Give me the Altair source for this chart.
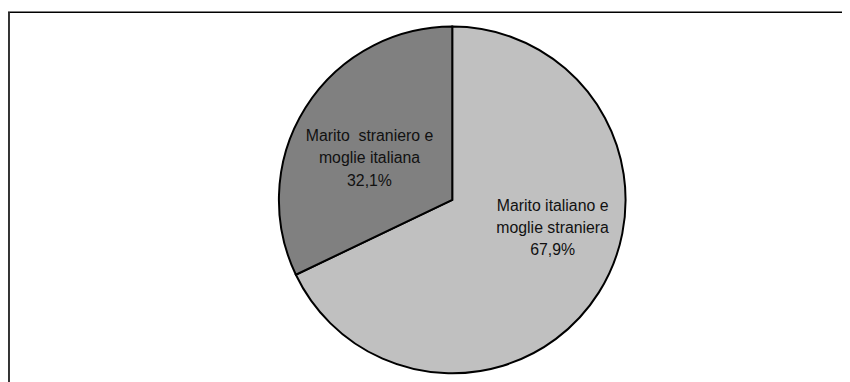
import altair as alt
import pandas as pd

categories = ["Marito italiano e moglie straniera", "Marito straniero e moglie italiana"]
label_line1 = ["Marito italiano e", "Marito\u00a0 straniero e"]
label_line2 = ["moglie straniera", "moglie italiana"]
values = [67.9, 32.1]
pct_labels = ["67,9%", "32,1%"]
colors = ["#C0C0C0", "#808080"]
order = [0, 1]

df = pd.DataFrame({
    "cat": categories,
    "value": values,
    "order": order,
    "text": [f"{a}\n{b}\n{c}" for a, b, c in zip(label_line1, label_line2, pct_labels)],
})

FONT = "Liberation Sans, Arial, sans-serif"

pie = alt.Chart(df).mark_arc(outerRadius=175, stroke="black", strokeWidth=2).encode(
    theta=alt.Theta("value:Q", stack=True),
    order=alt.Order("order:Q"),
    color=alt.Color("cat:N", scale=alt.Scale(domain=categories, range=colors), legend=None),
)

base_text = (
    alt.Chart(df)
    .transform_window(cum="sum(value)", sort=[alt.SortField("order")], frame=[None, 0])
    .transform_calculate(mid="datum.cum - datum.value / 2")
)

text_props = dict(radius=92, fontSize=16, font=FONT, lineBreak="\n", lineHeight=22.5,
                  align="center", baseline="middle", color="#111111")

t_light = base_text.transform_filter("datum.order == 0").mark_text(dx=23.5, dy=-43, **text_props).encode(
    theta=alt.Theta("mid:Q", scale=alt.Scale(domain=[0, 100])),
    text="text:N",
)
t_dark = base_text.transform_filter("datum.order == 1").mark_text(dx=-5.7, dy=-15.4, **text_props).encode(
    theta=alt.Theta("mid:Q", scale=alt.Scale(domain=[0, 100])),
    text="text:N",
)

one = pd.DataFrame({"a": [0]})
top_rule = alt.Chart(one).mark_rule(color="black", strokeWidth=1.5).encode(
    x=alt.value(-98.5), x2=alt.value(743.5), y=alt.value(-14.5)
)
left_rule = alt.Chart(one).mark_rule(color="#333333", strokeWidth=2).encode(
    x=alt.value(-97.5), y=alt.value(-14.5), y2=alt.value(366)
)

chart = (
    alt.layer(pie, t_light, t_dark, top_rule, left_rule)
    .resolve_scale(theta="independent")
    .properties(
        width=700,
        height=350,
        padding={"left": 98.5, "top": 17, "right": 43.5, "bottom": 7},
        autosize=alt.AutoSizeParams(type="none"),
        background="white",
    )
    .configure_view(stroke=None)
)

chart.save("out.html", embed_options={"renderer": "svg", "actions": False})
